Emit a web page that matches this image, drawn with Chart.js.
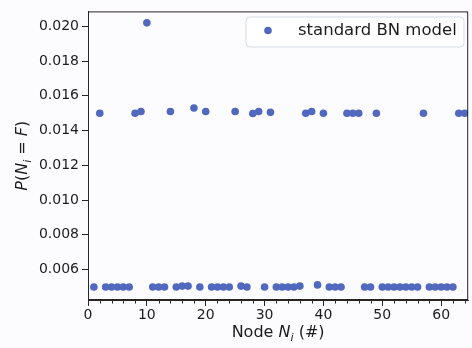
<!DOCTYPE html>
<html>
<head>
<meta charset="utf-8">
<script src="https://cdn.jsdelivr.net/npm/chart.js@4/dist/chart.umd.min.js"></script>
<style>
  html, body { margin: 0; padding: 0; background: #fcfcff; }
  #wrap { width: 472px; height: 348px; position: relative; }
</style>
</head>
<body>
<div id="wrap"><canvas id="c"></canvas></div>
<script>
// ---- data ----
const seriesLabel = 'standard BN model';
const nodes = [];
for (let i = 1; i <= 64; i++) nodes.push(i);
const probs = [
  0.00500, 0.01500, 0.00500, 0.00500, 0.00500, 0.00500, 0.00500, 0.01500,
  0.01510, 0.02020, 0.00500, 0.00500, 0.00500, 0.01510, 0.00500, 0.00505,
  0.00505, 0.01530, 0.00500, 0.01510, 0.00500, 0.00500, 0.00500, 0.00500,
  0.01510, 0.00505, 0.00500, 0.01498, 0.01510, 0.00500, 0.01505, 0.00500,
  0.00500, 0.00500, 0.00500, 0.00505, 0.01500, 0.01510, 0.00512, 0.01500,
  0.00500, 0.00500, 0.00500, 0.01500, 0.01500, 0.01500, 0.00500, 0.00500,
  0.01500, 0.00500, 0.00500, 0.00500, 0.00500, 0.00500, 0.00500, 0.00500,
  0.01500, 0.00500, 0.00500, 0.00500, 0.00500, 0.00500, 0.01500, 0.01500
];
const xTickLabels = [0, 10, 20, 30, 40, 50, 60];
const yTickLabels = [0.006, 0.008, 0.010, 0.012, 0.014, 0.016, 0.018, 0.020];
const xTitle = [{t:'Node '}, {t:'N', it:true}, {t:'i', it:true, sub:true}, {t:' (#)'}];
const yTitle = [{t:'P', it:true}, {t:'('}, {t:'N', it:true}, {t:'i', it:true, sub:true}, {t:' = '}, {t:'F', it:true}, {t:')'}];

const FONT = "'DejaVu Sans', sans-serif";
const DOT = '#5068be';
const INK = '#1c1c1c';

function richWidth(ctx, segs, size) {
  let w = 0;
  for (const s of segs) {
    const sz = s.sub ? size * 0.7 : size;
    ctx.font = (s.it ? 'italic ' : '') + sz + 'px ' + FONT;
    w += ctx.measureText(s.t).width;
  }
  return w;
}
function drawRich(ctx, segs, size, cx, cy) {
  const w = richWidth(ctx, segs, size);
  let x = cx - w / 2;
  ctx.textBaseline = 'middle';
  ctx.textAlign = 'left';
  ctx.fillStyle = INK;
  for (const s of segs) {
    const sz = s.sub ? size * 0.7 : size;
    ctx.font = (s.it ? 'italic ' : '') + sz + 'px ' + FONT;
    ctx.fillText(s.t, x, cy + (s.sub ? size * 0.3 : 0));
    x += ctx.measureText(s.t).width;
  }
}

const decor = {
  id: 'decor',
  afterDraw(chart) {
    const ctx = chart.ctx;
    const a = chart.chartArea;
    const xs = chart.scales.x;
    ctx.save();
    // frame
    ctx.strokeStyle = '#2a2424';
    ctx.lineWidth = 1;
    ctx.strokeRect(a.left + 0.5, a.top + 0.5, a.right - a.left - 1, a.bottom - a.top - 1);
    // minor x ticks
    ctx.beginPath();
    for (let v = 0; v <= xs.max; v += 2) {
      if (v % 10 === 0) continue;
      const px = Math.round(xs.getPixelForValue(v)) + 0.5;
      ctx.moveTo(px, a.bottom);
      ctx.lineTo(px, a.bottom + 3.5);
    }
    ctx.stroke();
    // axis titles
    drawRich(ctx, xTitle, 16, (a.left + a.right) / 2, 333);
    ctx.save();
    ctx.translate(23, (a.top + a.bottom) / 2);
    ctx.rotate(-Math.PI / 2);
    drawRich(ctx, yTitle, 16, 0, 0);
    ctx.restore();
    // legend
    const lx = 246, ly = 17, lw = 218, lh = 30, r = 4;
    ctx.beginPath();
    ctx.moveTo(lx + r, ly);
    ctx.arcTo(lx + lw, ly, lx + lw, ly + lh, r);
    ctx.arcTo(lx + lw, ly + lh, lx, ly + lh, r);
    ctx.arcTo(lx, ly + lh, lx, ly, r);
    ctx.arcTo(lx, ly, lx + lw, ly, r);
    ctx.closePath();
    ctx.fillStyle = 'rgba(255,255,255,0.85)';
    ctx.fill();
    ctx.strokeStyle = '#d6dbe6';
    ctx.stroke();
    ctx.beginPath();
    ctx.arc(268, 30.5, 3.8, 0, Math.PI * 2);
    ctx.fillStyle = DOT;
    ctx.fill();
    ctx.fillStyle = INK;
    ctx.font = '16.5px ' + FONT;
    ctx.textAlign = 'left';
    ctx.textBaseline = 'middle';
    ctx.fillText(chart.data.datasets[0].label, 298, 31);
    ctx.restore();
  }
};

new Chart(document.getElementById('c'), {
  type: 'scatter',
  data: {
    datasets: [{
      label: seriesLabel,
      data: nodes.map((n, i) => ({x: n, y: probs[i]})),
      backgroundColor: DOT,
      borderColor: DOT,
      borderWidth: 0,
      pointRadius: 3.8,
      pointHoverRadius: 3.8
    }]
  },
  options: {
    responsive: true,
    maintainAspectRatio: false,
    devicePixelRatio: 1,
    animation: false,
    layout: { padding: { top: 8, right: 2, left: 0, bottom: 0 } },
    plugins: { legend: { display: false }, tooltip: { enabled: false } },
    scales: {
      x: {
        type: 'linear',
        min: 0,
        max: 64.6,
        afterFit(s) { s.height = 48; },
        afterBuildTicks(s) { s.ticks = xTickLabels.map(v => ({value: v})); },
        grid: { drawOnChartArea: false, drawTicks: true, tickLength: 6, tickColor: '#2a2424' },
        border: { display: true, color: '#2a2424' },
        ticks: { color: INK, font: { family: FONT, size: 14 }, padding: 1, maxRotation: 0,
                 callback: v => String(v) }
      },
      y: {
        type: 'linear',
        min: 0.00425,
        max: 0.02086,
        afterFit(s) { s.width = 88; },
        afterBuildTicks(s) { s.ticks = yTickLabels.map(v => ({value: v})); },
        grid: { drawOnChartArea: false, drawTicks: true, tickLength: 6, tickColor: '#2a2424' },
        border: { display: true, color: '#2a2424' },
        ticks: { color: INK, font: { family: FONT, size: 14 }, padding: 3,
                 callback: v => Number(v).toFixed(3) }
      }
    }
  },
  plugins: [decor]
});
</script>
</body>
</html>
